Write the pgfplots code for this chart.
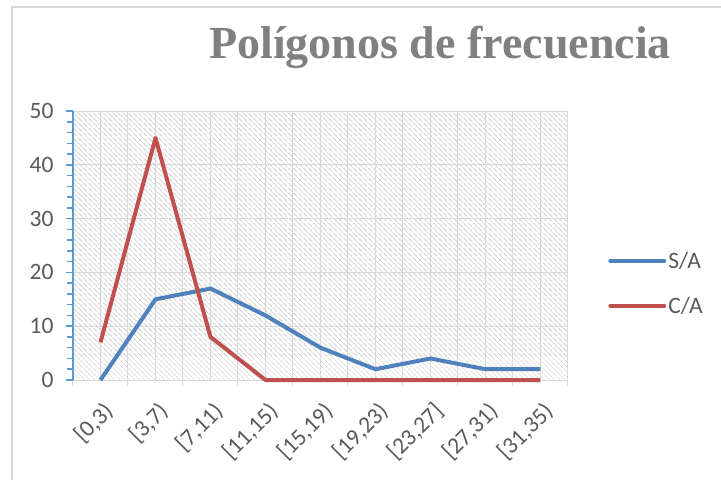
\documentclass[border=0pt]{standalone}
\usepackage{pgfplots}
\pgfplotsset{compat=1.18}
\usetikzlibrary{patterns.meta}
\usepackage{fontspec}
\setmainfont{Carlito}
\newfontfamily\titlefont{Liberation Serif}
\definecolor{sablue}{RGB}{79,129,189}
\definecolor{cared}{RGB}{192,80,77}
\definecolor{axblue}{RGB}{91,155,213}
\definecolor{txtgray}{RGB}{89,89,89}
\definecolor{gridgray}{RGB}{217,217,217}
\definecolor{hatchgray}{RGB}{222,222,222}
\definecolor{titlegray}{RGB}{128,128,128}
\tikzdeclarepattern{
  name=myhatch, type=uncolored,
  bounding box={(-0.5pt,-0.5pt) and (5.5pt,5.5pt)},
  tile size={(5pt,5pt)},
  code={
    \tikzset{line width=1.3pt}
    \draw (0pt,5pt) -- (5pt,0pt);
    \draw (-1pt,1pt) -- (1pt,-1pt);
    \draw (4pt,6pt) -- (6pt,4pt);
  }
}
\begin{document}
\begin{tikzpicture}
\useasboundingbox (0,0) rectangle (721pt,480pt);
\draw[gridgray,line width=1.5pt] (12pt,0) -- (12pt,473pt) -- (725pt,473pt);
\node[anchor=base,font=\titlefont\bfseries\fontsize{46}{52}\selectfont,text=titlegray] at (440pt,421pt) {Polígonos de frecuencia};
\begin{axis}[
  at={(73pt,100pt)}, anchor=south west,
  scale only axis, width=495pt, height=269pt,
  xmin=-0.5, xmax=8.5, ymin=0, ymax=50,
  xtick={0,...,8},
  xticklabels={{[0,3)},{[3,7)},{[7,11)},{[11,15)},{[15,19)},{[19,23)},{[23,27]},{[27,31)},{[31,35)}},
  minor xtick={-0.5,0.5,...,8.5},
  ytick={0,10,...,50}, minor y tick num=4,
  tick align=outside,
  xmajorgrids, xminorgrids, ymajorgrids,
  grid style={gridgray, line width=1pt},
  minor grid style={gridgray, line width=1pt},
  major x tick style={draw=none},
  minor x tick style={gridgray, line width=1pt},
  major tick length=7pt, minor tick length=6pt,
  y tick style={axblue, line width=1.5pt},
  minor y tick style={axblue, line width=1.5pt},
  axis x line*=bottom, axis y line*=left,
  x axis line style={gridgray, line width=1pt, -},
  y axis line style={axblue, line width=1.5pt, -},
  axis background/.style={pattern={myhatch}, pattern color=hatchgray},
  tick label style={font=\fontsize{23.5}{27}\selectfont, text=txtgray},
  /pgf/number format/assume math mode=true,
  xticklabel style={rotate=45, anchor=east, xshift=-5pt, yshift=-21pt},
  yticklabel style={xshift=-9pt},
  legend style={draw=none, fill=none, at={(1.081,0.359)}, anchor=west,
    font=\fontsize{23.5}{27}\selectfont, text=txtgray, row sep=23pt,
    cells={anchor=west}, inner sep=0pt},
  legend cell align=left,
  legend image code/.code={\draw[#1, line cap=round] (0pt,0pt) -- (54pt,0pt);},
  clip=false,
]
\addplot[sablue, line width=4pt, line join=round] coordinates {(0,0) (1,15) (2,17) (3,12) (4,6) (5,2) (6,4) (7,2) (8,2)};
\addlegendentry{S/A}
\addplot[cared, line width=4pt, line join=round] coordinates {(0,7) (1,45) (2,8) (3,0) (4,0) (5,0) (6,0) (7,0) (8,0)};
\addlegendentry{C/A}
\end{axis}
\end{tikzpicture}
\end{document}
